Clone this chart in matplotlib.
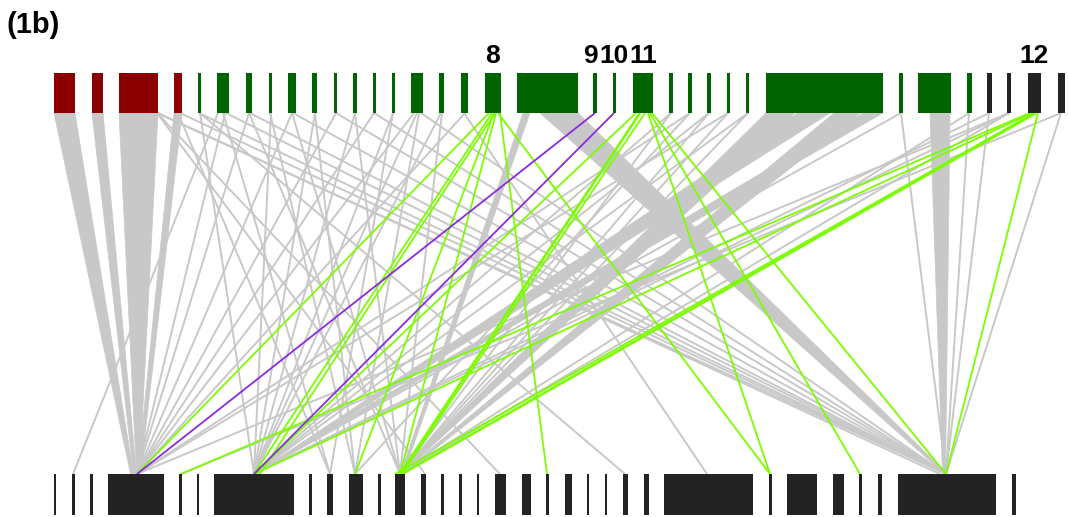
import matplotlib
matplotlib.use("Agg")
import matplotlib.pyplot as plt
from matplotlib.patches import Polygon, Rectangle

plt.rcParams["font.family"] = ["Liberation Sans", "DejaVu Sans"]

# upper chromosome track, segment (start, end) per colour class
upper_red = [(54, 75), (92, 103), (119, 158), (174, 182)]
upper_green = [(198, 201), (217, 229), (246, 252), (269, 272), (288, 296), (312, 317),
               (334, 337), (353, 357), (373, 375.5), (392, 394.5), (411, 423), (439, 444),
               (461, 468), (485, 501), (517, 578), (593, 597), (613, 616), (633, 653),
               (669, 673), (688, 692), (707, 711), (727, 730), (746, 749), (766, 883),
               (899, 903), (918, 951), (967, 972)]
upper_dark = [(987, 992), (1007, 1011), (1028, 1041), (1058, 1065)]

# lower chromosome track
lower_segments = [(54, 56), (72, 75), (90, 93), (108, 164), (179, 182), (197, 199),
                  (214, 294), (309, 312), (327, 333), (349, 363), (378, 381), (395, 405),
                  (421, 426), (441, 444), (459, 462), (477, 479), (495, 506), (522, 531),
                  (546, 549), (565, 572), (587, 589), (605, 607), (623, 628), (644, 649),
                  (664, 753), (769, 772), (787, 817), (833, 844), (859, 862), (878, 882),
                  (898, 996), (1012, 1016)]

# labelled upper segments: (text, anchor x, alignment)
segment_labels = [("8", 493, "center"), ("9", 598, "right"), ("10", 614, "center"),
                  ("11", 629, "left"), ("12", 1034, "center")]

# wide syntenic blocks: (upper start, upper end, lower position)
grey_bands = [(54, 75, 132), (92, 103, 135), (119, 158, 138), (174, 182, 139),
              (540, 578, 946), (523, 530, 402), (766, 795, 400), (798, 830, 256),
              (834, 860, 402), (863, 883, 254), (930, 950, 944)]

# single links: (upper position, lower position)
grey_links = [(157, 425), (157, 500), (157, 946), (158, 940), (178, 330), (180, 946),
              (200, 625), (200, 254), (199, 946), (218, 73), (223, 330), (225, 137),
              (226, 946), (249, 400), (249, 137), (250, 946), (270, 355), (271, 254),
              (292, 137), (292, 400), (293, 946), (315, 254), (315, 355), (336, 137),
              (336, 946), (355, 254), (355, 400), (374, 137), (374, 946), (393, 254),
              (393, 330), (414, 137), (417, 254), (419, 355), (421, 946), (441, 254),
              (442, 400), (464, 707), (465, 137), (671, 254), (671, 400), (690, 137),
              (690, 355), (709, 254), (709, 400), (728, 137), (728, 400), (748, 254),
              (748, 400), (901, 254), (901, 946), (969, 946), (969, 400), (989, 946),
              (989, 254), (1009, 254), (1009, 400), (1009, 137), (1061, 946), (1061, 181)]

green_links = [(489, 137), (492, 254), (495, 260), (494, 355), (496, 400), (500, 547),
               (498, 770), (636, 254), (645, 402), (648, 770), (650, 860), (652, 946),
               (1030, 181), (1032, 254), (1034, 395), (1038, 946)]
green_heavy = [(640, 400), (1036, 402)]

purple_links = [(595, 137), (614, 254)]

W, H = 1068, 517
UPPER_TOP, UPPER_BOT = 73, 113
LOWER_TOP, LOWER_BOT = 474, 515

GREY = "#c8c8c8"
LIME = "#7cfc00"
PURPLE = "#8a2be2"

fig = plt.figure(figsize=(W / 100, H / 100), dpi=100)
ax = fig.add_axes([0, 0, 1, 1])
ax.set_xlim(0, W)
ax.set_ylim(H, 0)
ax.axis("off")

for x0, x1, xb in grey_bands:
    ax.add_patch(Polygon([(x0, UPPER_BOT), (x1, UPPER_BOT), (xb + 1.5, LOWER_TOP),
                          (xb - 1.5, LOWER_TOP)], closed=True, facecolor=GREY,
                         edgecolor=GREY, linewidth=0.5, zorder=1))

for xt, xb in grey_links:
    ax.plot([xt, xb], [UPPER_BOT, LOWER_TOP], color=GREY, lw=1.4, zorder=2,
            solid_capstyle="butt")

for xt, xb in green_links:
    ax.plot([xt, xb], [UPPER_BOT, LOWER_TOP], color=LIME, lw=1.3, zorder=3,
            solid_capstyle="butt")
for xt, xb in green_heavy:
    ax.plot([xt, xb], [UPPER_BOT, LOWER_TOP], color=LIME, lw=1.9, zorder=3,
            solid_capstyle="butt")

for xt, xb in purple_links:
    ax.plot([xt, xb], [UPPER_BOT, LOWER_TOP], color=PURPLE, lw=1.3, zorder=4,
            solid_capstyle="butt")

for segs, colour in ((upper_red, "#8b0000"), (upper_green, "#006400"),
                     (upper_dark, "#232323")):
    for s, e in segs:
        ax.add_patch(Rectangle((s, UPPER_TOP), e - s, UPPER_BOT - UPPER_TOP,
                               facecolor=colour, edgecolor="none", zorder=5))

for s, e in lower_segments:
    ax.add_patch(Rectangle((s, LOWER_TOP), e - s, LOWER_BOT - LOWER_TOP,
                           facecolor="#232323", edgecolor="none", zorder=5))

for text, x, align in segment_labels:
    ax.text(x, 63, text, ha=align, va="baseline", fontsize=19, fontweight="bold",
            color="black", zorder=6)

ax.text(7, 33, "(1b)", ha="left", va="baseline", fontsize=21, fontweight="bold",
        color="black")

fig.savefig("out.png", dpi=100)
